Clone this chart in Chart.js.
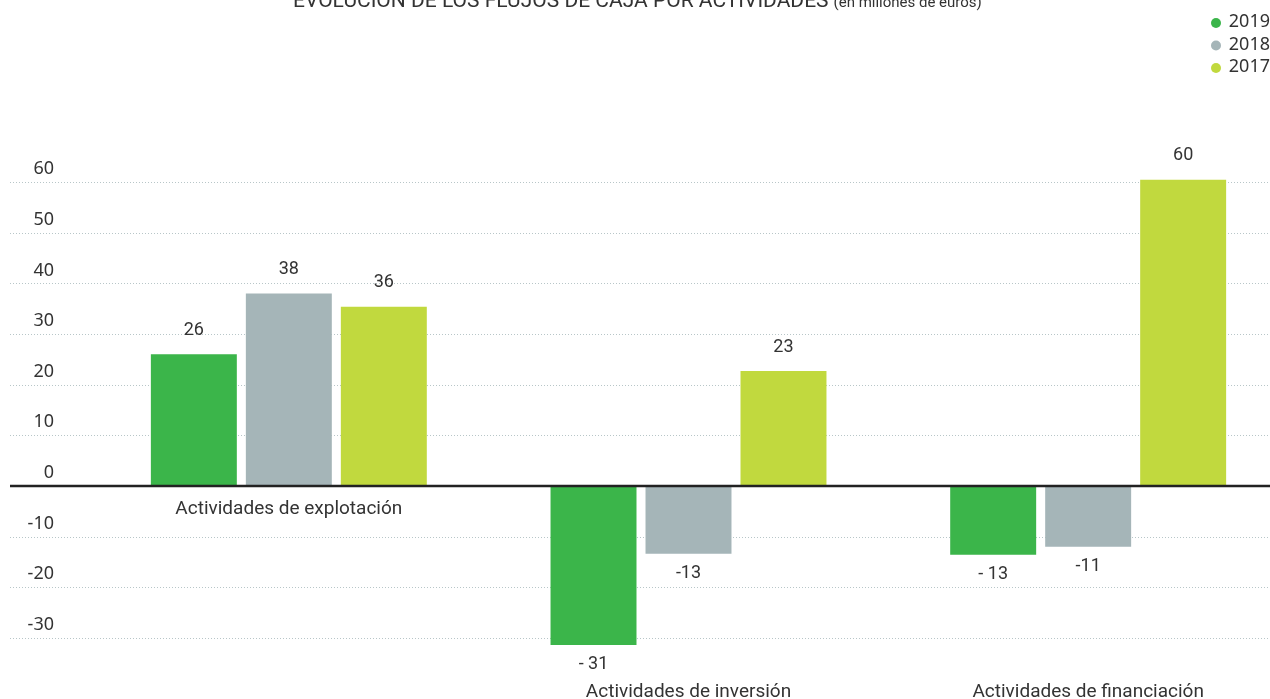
<!DOCTYPE html>
<html>
<head>
<meta charset="utf-8">
<script src="https://cdn.jsdelivr.net/npm/chart.js@4/dist/chart.umd.min.js"></script>
<style>
  html, body { margin: 0; padding: 0; background: #fff; overflow: hidden; width: 1270px; height: 699px; }
  #wrap { width: 1288px; height: 699px; position: relative; }
</style>
</head>
<body>
<div id="wrap"><canvas id="myChart"></canvas></div>
<script>
/* global Chart */

const CATEGORIES = ['Actividades de explotación', 'Actividades de inversión', 'Actividades de financiación'];
const YEARS = ['2019', '2018', '2017'];
const COLORS = ['#3bb54a', '#a5b5b8', '#c1d93e'];

// bar heights
const VALUES_2019 = [26, -31.4, -13.6];
const VALUES_2018 = [38, -13.4, -12];
const VALUES_2017 = [35.4, 22.7, 60.5];

// printed labels
const LABELS_2019 = ['26', '- 31', '- 13'];
const LABELS_2018 = ['38', '-13', '-11'];
const LABELS_2017 = ['36', '23', '60'];

const Y_TICKS = [60, 50, 40, 30, 20, 10, 0, -10, -20, -30];

const TITLE = 'EVOLUCIÓN DE LOS FLUJOS DE CAJA POR ACTIVIDADES';
const SUBTITLE = '(en millones de euros)';

const NARROW = '"Liberation Sans Narrow", "Roboto", sans-serif';
const SANS = '"Noto Sans", "Open Sans", sans-serif';

const valueLabels = [LABELS_2019, LABELS_2018, LABELS_2017];

const decor = {
    id: 'decor',
    beforeDatasetsDraw(chart) {
        const { ctx, scales: { y }, width } = chart;
        ctx.save();
        // dotted grid lines across the whole width
        ctx.strokeStyle = '#b8c6c8';
        ctx.lineWidth = 1;
        ctx.setLineDash([1, 2]);
        Y_TICKS.forEach(t => {
            if (t === 0) return;
            const py = Math.round(y.getPixelForValue(t)) + 0.5;
            ctx.beginPath();
            ctx.moveTo(10, py);
            ctx.lineTo(width, py);
            ctx.stroke();
        });
        ctx.setLineDash([]);
        // tick labels sit above their line
        ctx.fillStyle = '#333';
        ctx.font = '18px ' + SANS;
        ctx.textAlign = 'right';
        ctx.textBaseline = 'middle';
        Y_TICKS.forEach(t => {
            ctx.fillText(String(t), 54, y.getPixelForValue(t) - 13);
        });
        ctx.restore();
    },
    afterDatasetsDraw(chart) {
        const { ctx, scales: { x, y }, width, chartArea } = chart;
        ctx.save();
        // zero line
        const zy = y.getPixelForValue(0);
        ctx.strokeStyle = '#222';
        ctx.lineWidth = 2.5;
        ctx.beginPath();
        ctx.moveTo(10, zy);
        ctx.lineTo(width, zy);
        ctx.stroke();

        // value labels
        ctx.fillStyle = '#333';
        ctx.font = '18px ' + NARROW;
        ctx.textAlign = 'center';
        ctx.textBaseline = 'middle';
        chart.data.datasets.forEach((ds, i) => {
            const meta = chart.getDatasetMeta(i);
            meta.data.forEach((bar, j) => {
                const v = ds.data[j];
                const py = v >= 0 ? bar.y - 24 : bar.y + 20;
                ctx.fillText(valueLabels[i][j], bar.x, py);
            });
        });

        // category labels: under the zero line when all bars are positive, else at the bottom
        ctx.font = '19px ' + NARROW;
        CATEGORIES.forEach((c, j) => {
            const allPos = chart.data.datasets.every(ds => ds.data[j] >= 0);
            const py = allPos ? zy + 23 : chartArea.bottom + 39;
            ctx.fillText(c, x.getPixelForValue(j), py);
        });

        // legend
        ctx.font = '18px ' + SANS;
        ctx.textAlign = 'right';
        YEARS.forEach((yr, i) => {
            const py = 22 + i * 22.5;
            ctx.fillStyle = COLORS[i];
            ctx.beginPath();
            ctx.arc(1216, py + 1, 5, 0, Math.PI * 2);
            ctx.fill();
            ctx.fillStyle = '#333';
            ctx.fillText(yr, 1270, py);
        });

        // title, cut by the top edge
        ctx.textAlign = 'left';
        ctx.textBaseline = 'alphabetic';
        ctx.fillStyle = '#333';
        ctx.font = '21px ' + NARROW;
        ctx.fillText(TITLE, 293, 7);
        const tw = ctx.measureText(TITLE).width;
        ctx.font = '15px ' + NARROW;
        ctx.fillText(SUBTITLE, 293 + tw + 5, 7);
        ctx.restore();
    }
};

new Chart(document.getElementById('myChart'), {
    type: 'bar',
    data: {
        labels: CATEGORIES,
        datasets: [
            { label: YEARS[0], data: VALUES_2019, backgroundColor: COLORS[0] },
            { label: YEARS[1], data: VALUES_2018, backgroundColor: COLORS[1] },
            { label: YEARS[2], data: VALUES_2017, backgroundColor: COLORS[2] },
        ]
    },
    options: {
        responsive: true,
        maintainAspectRatio: false,
        animation: false,
        categoryPercentage: 0.713,
        barPercentage: 0.905,
        layout: { padding: { left: 89, right: 0, top: 162, bottom: 46 } },
        plugins: {
            legend: { display: false },
            tooltip: { enabled: false },
            title: { display: false }
        },
        scales: {
            x: { display: false },
            y: { display: false, min: -33, max: 64 }
        }
    },
    plugins: [decor]
});
</script>
</body>
</html>
